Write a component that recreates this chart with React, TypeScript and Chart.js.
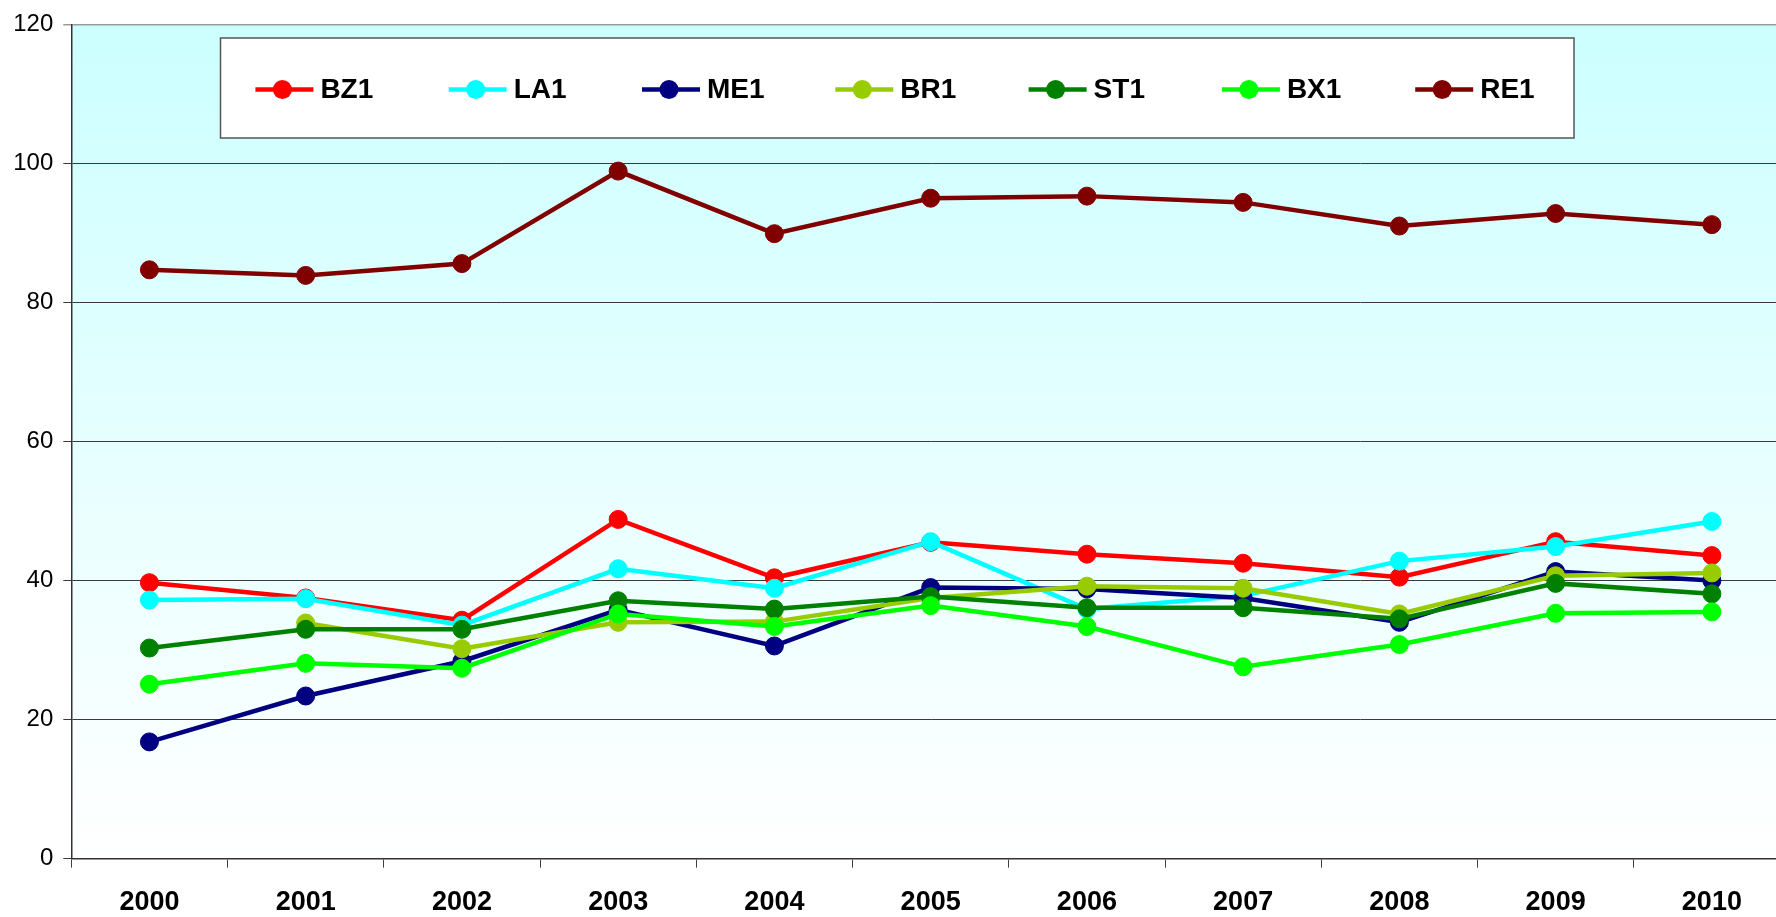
import React, { useEffect, useRef } from "react";
import { Chart, registerables } from "chart.js";

Chart.register(...registerables);

const years = ["2000", "2001", "2002", "2003", "2004", "2005", "2006", "2007", "2008", "2009", "2010"];
const yTicks = [0, 20, 40, 60, 80, 100, 120];

const seriesNames = ["BZ1", "LA1", "ME1", "BR1", "ST1", "BX1", "RE1"];
const seriesColors = ["#FF0000", "#00FFFF", "#000080", "#99CC00", "#008000", "#00FF00", "#800000"];

const bz1 = [39.7, 37.5, 34.3, 48.8, 40.4, 45.5, 43.8, 42.5, 40.5, 45.6, 43.6];
const la1 = [37.2, 37.4, 33.6, 41.7, 38.9, 45.6, 35.9, 37.8, 42.8, 44.9, 48.5];
const me1 = [16.8, 23.4, 28.4, 35.8, 30.6, 39.0, 38.8, 37.5, 34.0, 41.3, 40.0];
const br1 = [null, 33.9, 30.2, 34.0, 34.1, 37.5, 39.2, 38.9, 35.2, 40.7, 41.1];
const st1 = [30.3, 33.0, 33.0, 37.1, 35.9, 37.7, 36.1, 36.1, 34.5, 39.6, 38.1];
const bx1 = [25.1, 28.1, 27.4, 35.2, 33.4, 36.4, 33.4, 27.6, 30.8, 35.3, 35.5];
const re1 = [84.7, 83.9, 85.6, 98.9, 89.9, 95.0, 95.3, 94.4, 91.0, 92.8, 91.2];

const seriesValues = [bz1, la1, me1, br1, st1, bx1, re1];

const FONT = "'Liberation Sans', Arial, sans-serif";

const bgPlugin = {
  id: "plotBg",
  beforeDraw(chart: any) {
    const { ctx, chartArea } = chart;
    const g = ctx.createLinearGradient(0, chartArea.top, 0, chartArea.bottom);
    g.addColorStop(0, "#CCFFFF");
    g.addColorStop(1, "#FFFFFF");
    ctx.save();
    ctx.fillStyle = g;
    ctx.fillRect(chartArea.left, chartArea.top, chartArea.right - chartArea.left, chartArea.bottom - chartArea.top);
    ctx.restore();
  },
};

const legendPlugin = {
  id: "boxLegend",
  afterDraw(chart: any) {
    const { ctx } = chart;
    const bx = 220.5, by = 38, bw = 1353.5, bh = 100;
    ctx.save();
    ctx.fillStyle = "#FFFFFF";
    ctx.fillRect(bx, by, bw, bh);
    ctx.strokeStyle = "#555555";
    ctx.lineWidth = 1.5;
    ctx.strokeRect(bx, by, bw, bh);
    const cy = 89.5;
    chart.data.datasets.forEach((ds: any, i: number) => {
      const cx = 282.4 + i * 193.3;
      ctx.strokeStyle = ds.borderColor;
      ctx.lineWidth = 4.5;
      ctx.beginPath();
      ctx.moveTo(cx - 27, cy);
      ctx.lineTo(cx + 31, cy);
      ctx.stroke();
      ctx.fillStyle = ds.borderColor;
      ctx.beginPath();
      ctx.arc(cx, cy, 9.5, 0, Math.PI * 2);
      ctx.fill();
      ctx.fillStyle = "#000000";
      ctx.font = `bold 28px ${FONT}`;
      ctx.textAlign = "left";
      ctx.textBaseline = "middle";
      ctx.fillText(ds.label, cx + 38, cy + 1);
    });
    ctx.restore();
  },
};

export default function App() {
  const ref = useRef<HTMLCanvasElement | null>(null);

  useEffect(() => {
    if (!ref.current) return;
    const n = seriesNames.length;
    const chart = new Chart(ref.current, {
      type: "line",
      data: {
        labels: years,
        datasets: seriesNames.map((name, i) => ({
          label: name,
          data: seriesValues[i],
          borderColor: seriesColors[i],
          backgroundColor: seriesColors[i],
          pointBackgroundColor: seriesColors[i],
          pointBorderColor: seriesColors[i],
          pointBorderWidth: 1,
          pointRadius: 9,
          borderWidth: 4.5,
          tension: 0,
          fill: false,
          order: n - i,
        })),
      },
      options: {
        animation: false,
        responsive: false,
        devicePixelRatio: 1,
        layout: { padding: { top: 21.7, right: 6.1, left: 0, bottom: 0 } },
        plugins: {
          legend: { display: false },
          tooltip: { enabled: false },
          title: { display: false },
        },
        scales: {
          x: {
            type: "category",
            offset: true,
            grid: {
              offset: true,
              drawOnChartArea: false,
              drawTicks: true,
              tickLength: 9,
              color: "#404040",
              lineWidth: 1,
            },
            border: { display: true, color: "#333333", width: 1.5 },
            ticks: {
              color: "#000000",
              font: { family: FONT, size: 27, weight: "bold" },
              padding: 19,
              maxRotation: 0,
              autoSkip: false,
            },
            afterFit(scale: any) {
              scale.height = 58.3;
            },
          },
          y: {
            min: 0,
            max: 120,
            afterBuildTicks(scale: any) {
              scale.ticks = yTicks.map((v) => ({ value: v }));
            },
            grid: {
              color: (c: any) => (c.tick && c.tick.value === 120 ? "#9a9a9a" : "#3a3a3a"),
              lineWidth: (c: any) => (c.tick && c.tick.value === 120 ? 1.5 : 1),
              drawTicks: true,
              tickLength: 8,
            },
            border: { display: true, color: "#333333", width: 1.5 },
            ticks: {
              color: "#000000",
              font: { family: FONT, size: 24 },
              padding: 10,
            },
            afterFit(scale: any) {
              scale.width = 71.3;
            },
          },
        },
      },
      plugins: [bgPlugin, legendPlugin],
    });
    return () => chart.destroy();
  }, []);

  return (
    <div style={{ position: "fixed", left: 0, top: 0, width: 1776, height: 917, overflow: "hidden", background: "#FFFFFF" }}>
      <canvas ref={ref} width={1800} height={917} style={{ display: "block", width: 1800, height: 917 }} />
    </div>
  );
}
